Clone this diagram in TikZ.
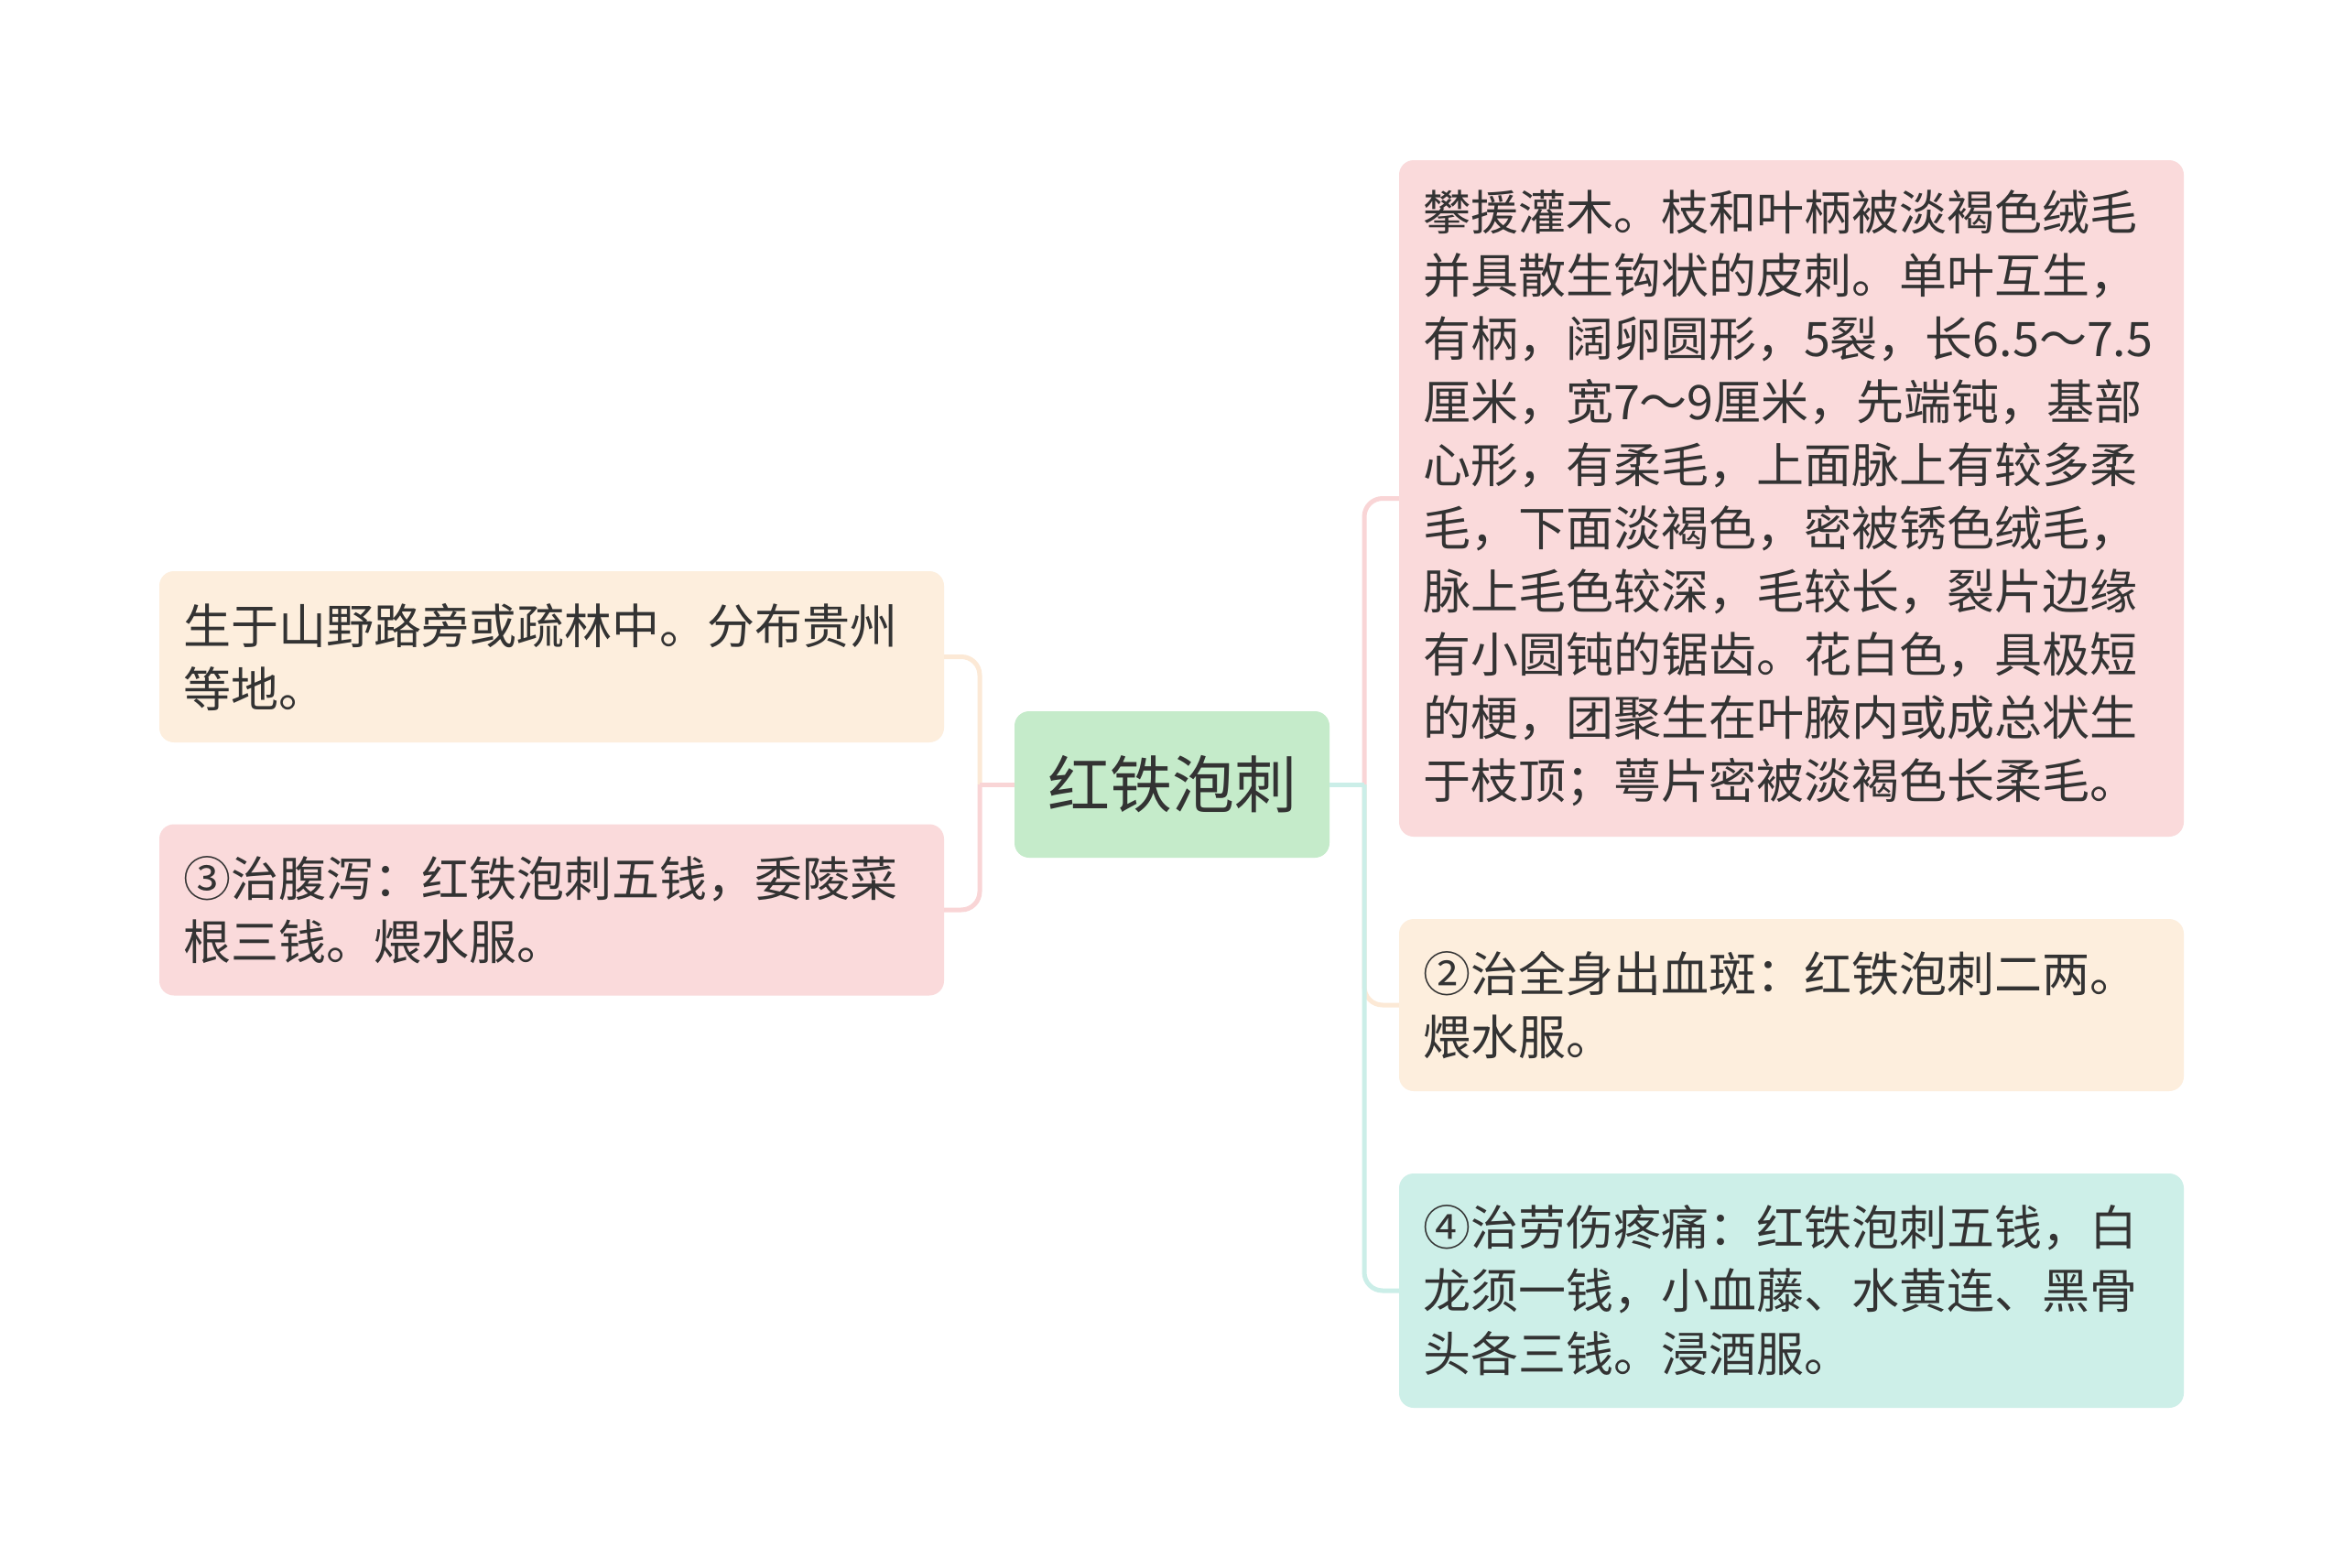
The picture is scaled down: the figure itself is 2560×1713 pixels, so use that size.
\documentclass[tikz,border=0pt]{standalone}
\usepackage{fontspec}
\setmainfont{Noto Sans CJK SC}
\definecolor{pinkfill}{HTML}{FADADB}
\definecolor{peachfill}{HTML}{FDEEDD}
\definecolor{cyanfill}{HTML}{CDEFE8}
\definecolor{greenfill}{HTML}{C5EBCA}
\definecolor{pinkline}{HTML}{F9D5D6}
\definecolor{peachline}{HTML}{FCE9D6}
\definecolor{cyanline}{HTML}{CBEEE8}
\definecolor{txt}{HTML}{333333}
\tikzset{
  leafbox/.style={rounded corners=16pt, minimum width=857pt, text width=805pt,
    inner xsep=26pt, inner ysep=0pt, align=left, text=txt,
    font=\fontsize{52}{69}\selectfont},
  rootbox/.style={rounded corners=16pt, fill=greenfill, minimum width=344pt,
    minimum height=160pt, inner sep=0pt, text=txt, font=\fontsize{68}{80}\selectfont},
  conn/.style={line width=5pt},
}
\begin{document}
\begin{tikzpicture}[x=1pt,y=-1pt]
\useasboundingbox[fill=white] (0,0) rectangle (2560,1713);

\node[rootbox] (root) at (1280,857) {红铁泡刺};

\node[leafbox, fill=pinkfill, minimum height=739pt] (r1) at (1956.5,544.5)
 {攀援灌木。枝和叶柄被淡褐色绒毛\\并具散生钩状的皮刺。单叶互生，\\有柄，阔卵圆形，5裂，长6.5～7.5\\厘米，宽7～9厘米，先端钝，基部\\心形，有柔毛，上面脉上有较多柔\\毛，下面淡褐色，密被锈色绒毛，\\脉上毛色较深，毛较长，裂片边缘\\有小圆钝的锯齿。花白色，具极短\\的梗，团聚生在叶腋内或成总状生\\于枝顶；萼片密被淡褐色长柔毛。};
\node[leafbox, fill=peachfill, minimum height=188pt] (r2) at (1956.5,1098)
 {②治全身出血斑：红铁泡刺二两。\\煨水服。};
\node[leafbox, fill=cyanfill, minimum height=256pt] (r3) at (1956.5,1410)
 {④治劳伤疼痛：红铁泡刺五钱，白\\龙须一钱，小血藤、水黄连、黑骨\\头各三钱。浸酒服。};
\node[leafbox, fill=peachfill, minimum height=187pt] (l1) at (602.5,717.5)
 {生于山野路旁或疏林中。分布贵州\\等地。};
\node[leafbox, fill=pinkfill, minimum height=187pt] (l2) at (602.5,994)
 {③治腹泻：红铁泡刺五钱，委陵菜\\根三钱。煨水服。};

\coordinate (rb) at (1490,857);
\coordinate (lb) at (1070,857);

% right side
\draw[conn, pinkline, rounded corners=20pt] (rb) |- (r1.west);
\draw[conn, peachline, rounded corners=20pt] (rb) |- (r2.west);
\draw[conn, cyanline, rounded corners=20pt] (rb) |- (r3.west);
\draw[conn, cyanline] (root.east) -- (rb);

% left side
\draw[conn, peachline, rounded corners=20pt] (lb) |- (l1.east);
\draw[conn, pinkline, rounded corners=20pt] (lb) |- (l2.east);
\draw[conn, pinkline] (root.west) -- (lb);
\end{tikzpicture}
\end{document}
